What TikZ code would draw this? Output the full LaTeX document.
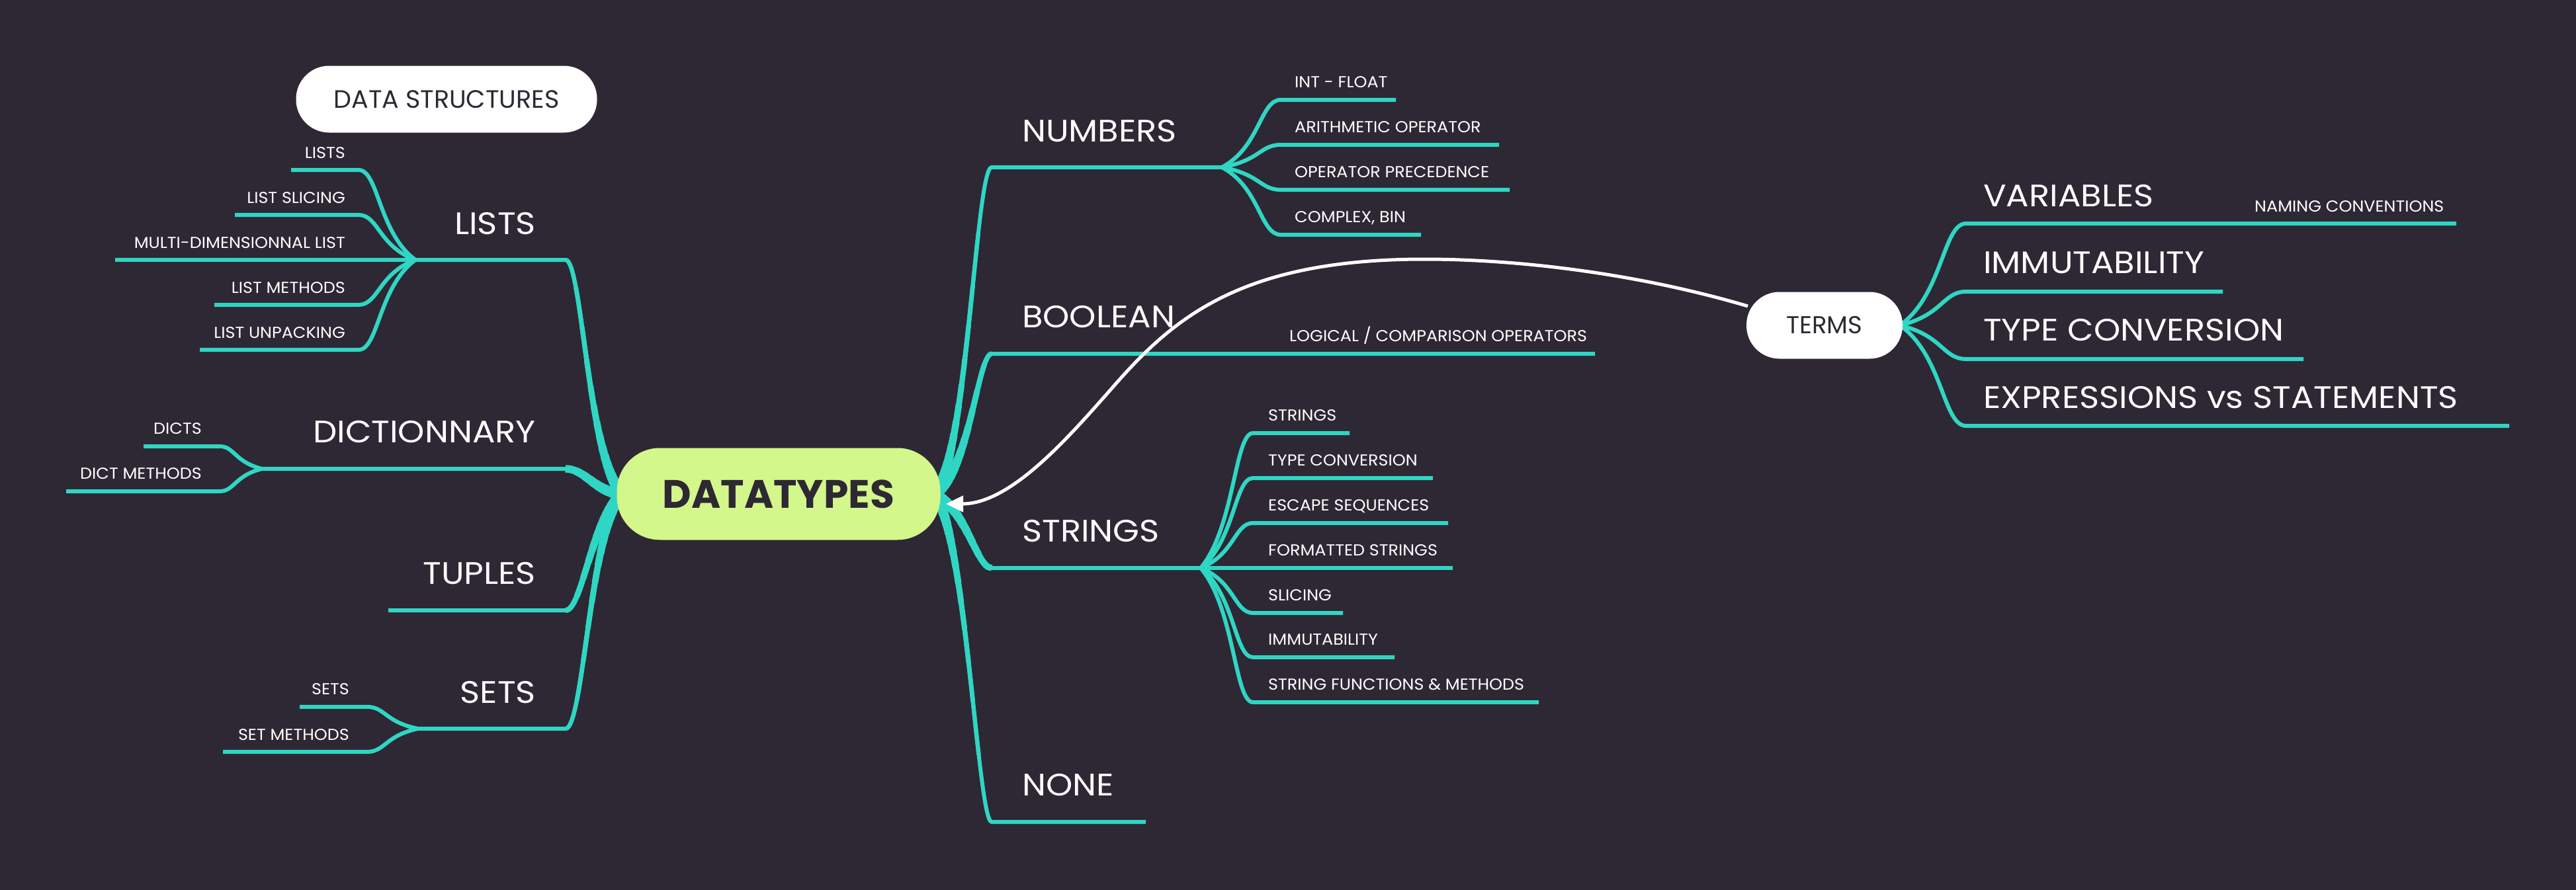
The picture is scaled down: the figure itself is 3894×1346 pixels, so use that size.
\documentclass[tikz,border=0pt]{standalone}
\usepackage{fontspec}
\setmainfont{Poppins}
\newfontfamily\bigfont{Poppins}[FakeStretch=1.09]
\newfontfamily\smallfont{Poppins}[FakeStretch=1.06]
\usetikzlibrary{calc,arrows.meta}
\definecolor{bg}{HTML}{2E2834}
\definecolor{brteal}{HTML}{2FD6C3}
\definecolor{clime}{HTML}{D3F78A}
\newcommand\child[3]{\draw[br] (#1) -- (#2) let \p1=(#2), \p2=(#3) in .. controls ({\x1+0.35*(\x2-\x1)},\y1) and ({\x1+0.35*(\x2-\x1)},{\y2+0.3*(\y1-\y2)}) .. (#3);}
\newcommand\taper[2]{%
  \foreach \r in {400,320,260,210,170,140,115,95,78,64,52,42,34,27,20} {%
    \pgfmathsetmacro\w{6+12*exp(-\r/120)}%
    \begin{scope}
      \clip (#1) circle[radius=\r pt];
      \draw[brteal, line width=\w pt] #2;
    \end{scope}
  }}
\begin{document}
\begin{tikzpicture}[x=1pt,y=-1pt,
  br/.style={draw=brteal, line width=6pt},
  big/.style={text=white, font=\bigfont\fontsize{47}{50}\selectfont, inner sep=0pt},
  small/.style={text=white, font=\smallfont\fontsize{24}{26}\selectfont, inner sep=0pt},
  pill/.style={fill=white, text=bg, inner sep=0pt},
]
\useasboundingbox (0,0) rectangle (3894,1346);
\fill[bg] (0,0) rectangle (3894,1346);

% ---------- coordinates ----------
\coordinate (cL) at (940,747);
\coordinate (cR) at (1412,747);
% left
\coordinate (jLists) at (628,393); \coordinate (kLists) at (855,393);
\coordinate (jDict) at (396,709);  \coordinate (kDict) at (855,709);
\coordinate (eTup) at (587,923);   \coordinate (kTup) at (855,923);
\coordinate (jSets) at (632,1102); \coordinate (kSets) at (855,1102);
\coordinate (l1e) at (440,257); \coordinate (l1s) at (542,257);
\coordinate (l2e) at (355,325); \coordinate (l2s) at (542,325);
\coordinate (l3e) at (174,393);
\coordinate (l4e) at (324,461); \coordinate (l4s) at (542,461);
\coordinate (l5e) at (302,529); \coordinate (l5s) at (542,529);
\coordinate (d1e) at (217,675); \coordinate (d1s) at (332,675);
\coordinate (d2e) at (100,743); \coordinate (d2s) at (332,743);
\coordinate (s1e) at (453,1069); \coordinate (s1s) at (555,1069);
\coordinate (s2e) at (337,1137); \coordinate (s2s) at (555,1137);
% right
\coordinate (kNum) at (1499,253); \coordinate (jNum) at (1847,253);
\coordinate (n1s) at (1936,151); \coordinate (n1e) at (2110,151);
\coordinate (n2s) at (1936,219); \coordinate (n2e) at (2266,219);
\coordinate (n3s) at (1936,287); \coordinate (n3e) at (2282,287);
\coordinate (n4s) at (1936,355); \coordinate (n4e) at (2148,355);
\coordinate (kBool) at (1499,535); \coordinate (eBool) at (2411,535);
\coordinate (kStr) at (1499,859); \coordinate (jStr) at (1815,859);
\coordinate (t1s) at (1894,655);  \coordinate (t1e) at (2040,655);
\coordinate (t2s) at (1894,723);  \coordinate (t2e) at (2166,723);
\coordinate (t3s) at (1894,791);  \coordinate (t3e) at (2189,791);
\coordinate (t4e) at (2196,859);
\coordinate (t5s) at (1894,927);  \coordinate (t5e) at (2030,927);
\coordinate (t6s) at (1894,994);  \coordinate (t6e) at (2108,994);
\coordinate (t7s) at (1894,1062); \coordinate (t7e) at (2326,1062);
\coordinate (kNone) at (1499,1243); \coordinate (eNone) at (1732,1243);
\coordinate (jT) at (2872,492);
\coordinate (v1s) at (2972,338); \coordinate (v1e) at (3713,338);
\coordinate (v2s) at (2972,441); \coordinate (v2e) at (3360,441);
\coordinate (v3s) at (2972,543); \coordinate (v3e) at (3482,543);
\coordinate (v4s) at (2972,644); \coordinate (v4e) at (3793,644);

% ---------- main trunks ----------
\draw[br] (jLists) -- (kLists) .. controls (880,393) and (888,690) .. (cL);
\taper{cL}{(kLists) .. controls (880,393) and (888,690) .. (cL)}
\draw[br] (jDict) -- (kDict) .. controls (885,709) and (900,745) .. (cL);
\taper{cL}{(kDict) .. controls (885,709) and (900,745) .. (cL)}
\draw[br] (eTup) -- (kTup) .. controls (880,923) and (892,790) .. (cL);
\taper{cL}{(kTup) .. controls (880,923) and (892,790) .. (cL)}
\draw[br] (jSets) -- (kSets) .. controls (882,1102) and (892,800) .. (cL);
\taper{cL}{(kSets) .. controls (882,1102) and (892,800) .. (cL)}

\draw[br] (jNum) -- (kNum) .. controls (1475,253) and (1462,700) .. (cR);
\taper{cR}{(kNum) .. controls (1475,253) and (1462,700) .. (cR)}
\draw[br] (eBool) -- (kBool) .. controls (1478,535) and (1465,720) .. (cR);
\taper{cR}{(kBool) .. controls (1478,535) and (1465,720) .. (cR)}
\draw[br] (jStr) -- (kStr) .. controls (1476,859) and (1462,770) .. (cR);
\taper{cR}{(kStr) .. controls (1476,859) and (1462,770) .. (cR)}
\draw[br] (eNone) -- (kNone) .. controls (1478,1243) and (1460,800) .. (cR);
\taper{cR}{(kNone) .. controls (1478,1243) and (1460,800) .. (cR)}

% ---------- sub branches ----------
\child{l1e}{l1s}{jLists}
\child{l2e}{l2s}{jLists}
\draw[br] (l3e) -- (jLists);
\child{l4e}{l4s}{jLists}
\child{l5e}{l5s}{jLists}
\child{d1e}{d1s}{jDict}
\child{d2e}{d2s}{jDict}
\child{s1e}{s1s}{jSets}
\child{s2e}{s2s}{jSets}
\child{n1e}{n1s}{jNum}
\child{n2e}{n2s}{jNum}
\child{n3e}{n3s}{jNum}
\child{n4e}{n4s}{jNum}
\child{t1e}{t1s}{jStr}
\child{t2e}{t2s}{jStr}
\child{t3e}{t3s}{jStr}
\draw[br] (t4e) -- (jStr);
\child{t5e}{t5s}{jStr}
\child{t6e}{t6s}{jStr}
\child{t7e}{t7s}{jStr}
\child{v1e}{v1s}{jT}
\child{v2e}{v2s}{jT}
\child{v3e}{v3s}{jT}
\child{v4e}{v4s}{jT}

% ---------- boxes ----------
\node[fill=clime, text=bg, rounded corners=65pt, minimum width=489pt, minimum height=139pt, inner sep=0pt,
      font=\fontsize{60}{64}\selectfont\bfseries] (dt) at (1177,747) {DATATYPES};
\node[pill, rounded corners=50pt, minimum width=455pt, minimum height=101pt,
      font=\fontsize{38}{40}\selectfont] (ds) at (675,150) {DATA STRUCTURES};
\node[pill, rounded corners=50pt, minimum width=236pt, minimum height=101pt,
      font=\fontsize{37}{40}\selectfont] (terms) at (2758,492) {TERMS};

% ---------- relation arrow ----------
\coordinate (tA) at (2642,463);
\coordinate (tTop) at (2153,392);
\coordinate (tMid) at (1687,580);
\coordinate (tipA) at (1430,762);
\draw[white, line width=5pt, -{Triangle[length=26pt,width=24pt]}]
  (tA) .. controls (2480,415) and (2300,392) .. (tTop)
       .. controls (1880,392) and (1777,478) .. (tMid)
       .. controls (1620,656) and (1530,762) .. (tipA);

% ---------- labels ----------
\node[big, anchor=base east] (Lists) at (810,354) {LISTS};
\node[big, anchor=base east] (Dict) at (810,669) {DICTIONNARY};
\node[big, anchor=base east] (Tup) at (810,883) {TUPLES};
\node[big, anchor=base east] (Sets) at (810,1063) {SETS};
\node[small, anchor=base east] (L1) at (522,239) {LISTS};
\node[small, anchor=base east] (L2) at (522,307) {LIST SLICING};
\node[small, anchor=base east] (L3) at (522,375) {MULTI-DIMENSIONNAL LIST};
\node[small, anchor=base east] (L4) at (522,443) {LIST METHODS};
\node[small, anchor=base east] (L5) at (522,511) {LIST UNPACKING};
\node[small, anchor=base east] (D1) at (305,656) {DICTS};
\node[small, anchor=base east] (D2) at (305,724) {DICT METHODS};
\node[small, anchor=base east] (S1) at (528,1050) {SETS};
\node[small, anchor=base east] (S2) at (528,1119) {SET METHODS};

\node[big, anchor=base west] (Num) at (1545,214) {NUMBERS};
\node[big, anchor=base west] (Bool) at (1545,495) {BOOLEAN};
\node[big, anchor=base west] (Str) at (1545,819) {STRINGS};
\node[big, anchor=base west] (None) at (1545,1203) {NONE};
\node[small, anchor=base west] (N1) at (1957,132) {INT - FLOAT};
\node[small, anchor=base west] (N2) at (1957,200) {ARITHMETIC OPERATOR};
\node[small, anchor=base west] (N3) at (1957,268) {OPERATOR PRECEDENCE};
\node[small, anchor=base west] (N4) at (1957,336) {COMPLEX, BIN};
\node[small, anchor=base west] (B1) at (1949,516) {LOGICAL / COMPARISON OPERATORS};
\node[small, anchor=base west] (T1) at (1917,636) {STRINGS};
\node[small, anchor=base west] (T2) at (1917,704) {TYPE CONVERSION};
\node[small, anchor=base west] (T3) at (1917,772) {ESCAPE SEQUENCES};
\node[small, anchor=base west] (T4) at (1917,840) {FORMATTED STRINGS};
\node[small, anchor=base west] (T5) at (1917,908) {SLICING};
\node[small, anchor=base west] (T6) at (1917,975) {IMMUTABILITY};
\node[small, anchor=base west] (T7) at (1917,1043) {STRING FUNCTIONS \& METHODS};

\node[big, anchor=base west] (V1) at (2998,312) {VARIABLES};
\node[small, anchor=base west] (V1a) at (3408,320) {NAMING CONVENTIONS};
\node[big, anchor=base west] (V2) at (2998,413) {IMMUTABILITY};
\node[big, anchor=base west] (V3) at (2998,515) {TYPE CONVERSION};
\node[big, anchor=base west] (V4) at (2998,617) {EXPRESSIONS vs STATEMENTS};
\end{tikzpicture}
\end{document}
